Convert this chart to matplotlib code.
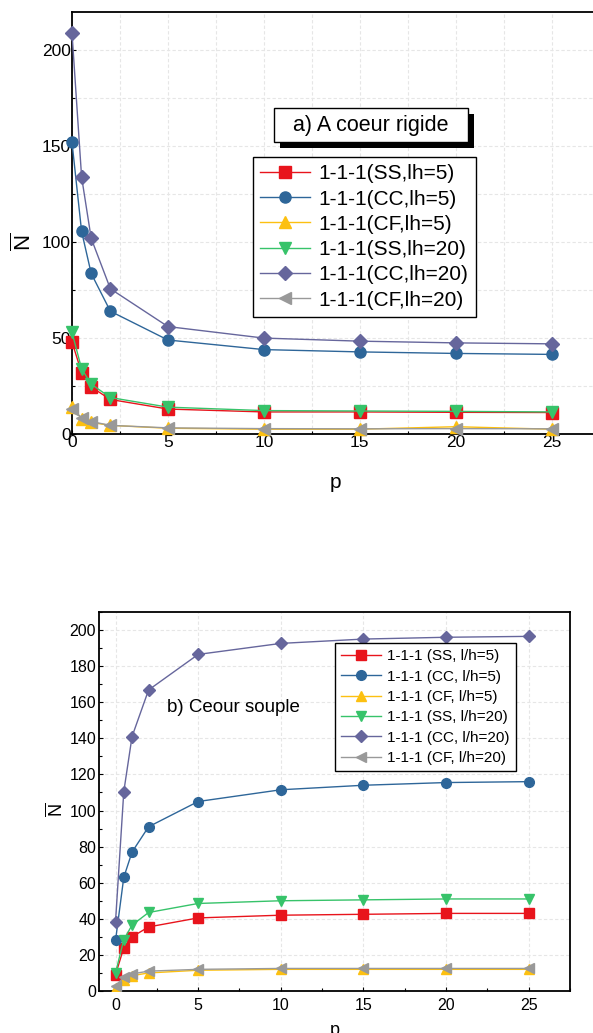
import matplotlib
matplotlib.use("Agg")
import matplotlib.pyplot as plt
from matplotlib.patches import Rectangle
from matplotlib.ticker import MultipleLocator

plt.rcParams['font.family'] = ['Liberation Sans', 'DejaVu Sans']
plt.rcParams['mathtext.fontset'] = 'custom'
plt.rcParams['mathtext.rm'] = 'Liberation Sans'
plt.rcParams['mathtext.it'] = 'Liberation Sans'

p = [0, 0.5, 1, 2, 5, 10, 15, 20, 25]

# a) A coeur rigide
rig_ss5 = [48, 32, 24.5, 18, 13, 11.5, 11.5, 11.3, 11.2]
rig_cc5 = [152, 105.6, 83.7, 64, 49, 44, 42.8, 42, 41.5]
rig_cf5 = [14, 8, 6, 4.5, 3, 2.5, 2.5, 3.8, 2.5]
rig_ss20 = [53, 34, 26, 19, 14, 12.2, 12, 11.8, 11.5]
rig_cc20 = [209, 134, 102, 75.7, 56, 50, 48.4, 47.5, 47]
rig_cf20 = [13, 8.5, 6.5, 4.5, 3.2, 2.8, 2.7, 2.8, 2.7]
rig_labels = ["1-1-1(SS,lh=5)", "1-1-1(CC,lh=5)", "1-1-1(CF,lh=5)",
              "1-1-1(SS,lh=20)", "1-1-1(CC,lh=20)", "1-1-1(CF,lh=20)"]

# b) Ceour souple
sou_ss5 = [9, 24, 30, 35.5, 40.5, 42, 42.5, 43, 43]
sou_cc5 = [28, 63, 77, 91, 105, 111.5, 114, 115.5, 116]
sou_cf5 = [1.5, 6, 8.5, 10, 11.5, 12, 12, 12, 12]
sou_ss20 = [10, 28.5, 36.5, 43.5, 48.5, 50, 50.5, 51, 51]
sou_cc20 = [38.5, 110.5, 141, 166.8, 186.5, 192.6, 195, 196, 196.5]
sou_cf20 = [3, 7.5, 9.5, 11, 12, 12.5, 12.5, 12.5, 12.5]
sou_labels = ["1-1-1 (SS, l/h=5)", "1-1-1 (CC, l/h=5)", "1-1-1 (CF, l/h=5)",
              "1-1-1 (SS, l/h=20)", "1-1-1 (CC, l/h=20)", "1-1-1 (CF, l/h=20)"]

colors = ["#e8141c", "#2e6699", "#fcc011", "#37c36a", "#66669c", "#999999"]
markers = ["s", "o", "^", "v", "D", "<"]

W, H = 593, 1033
fig = plt.figure(figsize=(W / 100, H / 100), dpi=100)


def fig_box(x0, y0, x1, y1):
    # pixel box (top-left origin) -> figure fraction rect
    return [x0 / W, 1 - y1 / H, (x1 - x0) / W, (y1 - y0) / H]


# ---------- top panel ----------
ax1 = fig.add_axes(fig_box(72, 12, 593, 434))
rig = [rig_ss5, rig_cc5, rig_cf5, rig_ss20, rig_cc20, rig_cf20]
for ys, c, m, lab in zip(rig, colors, markers, rig_labels):
    ms = 8 if m != "D" else 7
    ax1.plot(p, ys, color=c, marker=m, markersize=ms, lw=1.0, label=lab, clip_on=False, zorder=3)
ax1.set_xlim(0, 27.15)
ax1.set_ylim(0, 220)
ax1.xaxis.set_major_locator(MultipleLocator(5))
ax1.xaxis.set_minor_locator(MultipleLocator(2.5))
ax1.yaxis.set_major_locator(MultipleLocator(50))
ax1.yaxis.set_minor_locator(MultipleLocator(25))
ax1.grid(True, which='both', color='#e6e6e6', ls=(0, (3, 2)), lw=0.8)
ax1.set_axisbelow(True)
ax1.spines['right'].set_visible(False)
for s in ['left', 'bottom', 'top']:
    ax1.spines[s].set_linewidth(1.3)
ax1.tick_params(which='both', direction='in', labelsize=12.5, pad=1, length=3, width=0.8)
ax1.tick_params(which='minor', length=2)
ax1.set_xlabel("p", fontsize=15)
ax1.xaxis.set_label_coords((335 - 72) / 521, -(473 - 434) / 422)
ax1.set_ylabel(r"$\overline{\mathrm{N}}$", fontsize=16)
ax1.yaxis.set_label_coords(-(72 - 36) / 521, (434 - 242) / 422)

leg1 = ax1.legend(loc='upper left', bbox_to_anchor=(253 / W, 1 - 157 / H),
                  bbox_transform=fig.transFigure, fontsize=15, frameon=True,
                  fancybox=False, edgecolor='black', framealpha=1,
                  handlelength=2.4, handletextpad=0.4, borderpad=0.35,
                  labelspacing=0.3, borderaxespad=0)
leg1.get_frame().set_linewidth(1.0)

# title box with shadow
fig.patches.append(Rectangle((280 / W, 1 - 148 / H), 194 / W, 34 / H,
                             transform=fig.transFigure, facecolor='black',
                             edgecolor='none', zorder=5))
fig.patches.append(Rectangle((274 / W, 1 - 142 / H), 194 / W, 34 / H,
                             transform=fig.transFigure, facecolor='white',
                             edgecolor='black', lw=1.0, zorder=6))
fig.text(371 / W, 1 - 125 / H, "a) A coeur rigide", fontsize=15.5,
         ha='center', va='center', zorder=7)

# ---------- bottom panel ----------
ax2 = fig.add_axes(fig_box(99, 612, 570, 991))
sou = [sou_ss5, sou_cc5, sou_cf5, sou_ss20, sou_cc20, sou_cf20]
for ys, c, m, lab in zip(sou, colors, markers, sou_labels):
    ms = 7 if m != "D" else 6.5
    ax2.plot(p, ys, color=c, marker=m, markersize=ms, lw=1.0, label=lab, zorder=3)
ax2.set_xlim(-1, 27.5)
ax2.set_ylim(0, 210)
ax2.xaxis.set_major_locator(MultipleLocator(5))
ax2.xaxis.set_minor_locator(MultipleLocator(2.5))
ax2.yaxis.set_major_locator(MultipleLocator(20))
ax2.yaxis.set_minor_locator(MultipleLocator(10))
ax2.grid(True, which='major', color='#e6e6e6', ls=(0, (3, 2)), lw=0.8)
ax2.set_axisbelow(True)
for s in ax2.spines.values():
    s.set_linewidth(1.3)
ax2.tick_params(which='both', direction='in', labelsize=11.5, pad=2, length=3, width=0.8)
ax2.tick_params(axis='x', pad=5)
ax2.tick_params(which='minor', length=2)
ax2.set_xlabel("p", fontsize=13)
ax2.xaxis.set_label_coords((335 - 99) / 471, -(1022 - 991) / 379)
ax2.set_ylabel(r"$\overline{\mathrm{N}}$", fontsize=13)
ax2.yaxis.set_label_coords(-(99 - 66) / 471, (991 - 810) / 379)

leg2 = ax2.legend(loc='upper left', bbox_to_anchor=(335 / W, 1 - 643 / H),
                  bbox_transform=fig.transFigure, fontsize=11, frameon=True,
                  fancybox=False, edgecolor='black', framealpha=1,
                  handlelength=2.6, handletextpad=0.4, borderpad=0.4,
                  labelspacing=0.42, borderaxespad=0)
leg2.get_frame().set_linewidth(1.0)

fig.text(167 / W, 1 - 708 / H, "b) Ceour souple", fontsize=13.5, ha='left', va='center')

fig.savefig("out.png", dpi=100)
